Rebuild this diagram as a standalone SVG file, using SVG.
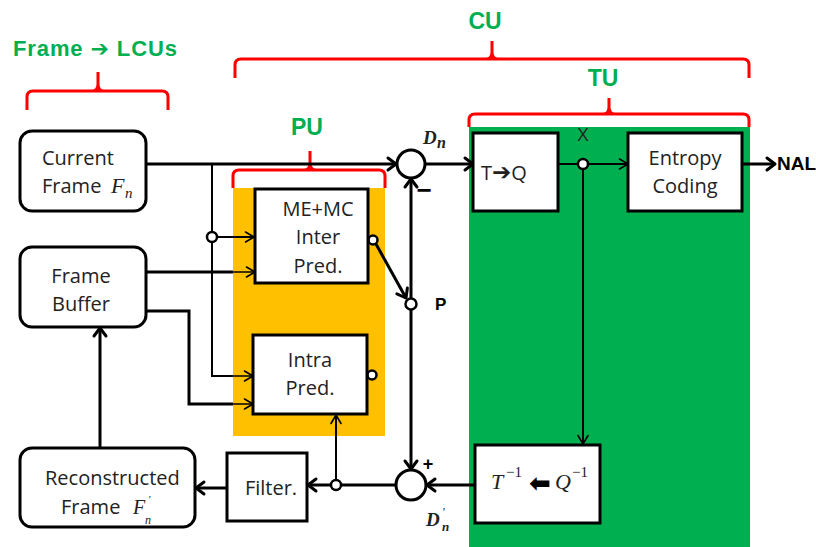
<svg xmlns="http://www.w3.org/2000/svg" width="816" height="547" viewBox="0 0 816 547">
<style>
.box{fill:#fff;stroke:#000;stroke-width:3}
.t{font-family:"Open Sans","Liberation Sans",sans-serif;font-size:20px;fill:#222}
.lbl{font-family:"Liberation Sans",Arial,sans-serif;font-weight:bold;fill:#00B050}
.m{font-family:"Liberation Serif","DejaVu Serif",serif;font-style:italic;fill:#222}
.brace{fill:none;stroke:#FF0000;stroke-width:3;stroke-linejoin:round}
.thick{fill:none;stroke:#000;stroke-width:3}
.mid{fill:none;stroke:#000;stroke-width:2}
.thin{fill:none;stroke:#000;stroke-width:1.5}
.dot{fill:#fff;stroke:#000;stroke-width:2.5}
.sum{fill:#fff;stroke:#000;stroke-width:3}
.arw{font-family:"DejaVu Sans",sans-serif;font-weight:bold}
</style>
<defs>
<marker id="ak" viewBox="0 0 10 14" markerWidth="10" markerHeight="14" refX="9" refY="7" orient="auto" markerUnits="userSpaceOnUse" overflow="visible">
<path d="M1,1 L9,7 L1,13" fill="none" stroke="#000" stroke-width="3" stroke-linejoin="round" stroke-linecap="round"/>
</marker>
<marker id="an" viewBox="0 0 10 12" markerWidth="10" markerHeight="12" refX="9.5" refY="6" orient="auto" markerUnits="userSpaceOnUse" overflow="visible">
<path d="M1,1 L9.5,6 L1,11" fill="none" stroke="#000" stroke-width="1.6" stroke-linejoin="round" stroke-linecap="round"/>
</marker>
</defs>
<rect width="816" height="547" fill="#fff"/>

<g id="regions">
<rect x="233" y="188" width="152" height="248" fill="#FFC000"/>
<rect x="469" y="127" width="281" height="420" fill="#00B050"/>
</g>

<g id="braces">
<text class="lbl" x="13" y="56" font-size="22" textLength="164" lengthAdjust="spacing">Frame <tspan class="arw">➔</tspan> LCUs</text>
<path class="brace" d="M27,110 V97 Q27,91 33,91 H162 Q168,91 168,97 V110 M98,72 V84 Q98,91 92,91 M98,84 Q98,91 104,91"/>
<text class="lbl" x="485" y="29" font-size="23" text-anchor="middle">CU</text>
<path class="brace" d="M235,78 V65 Q235,59 241,59 H743 Q749,59 749,65 V78 M492,41 V52 Q492,59 486,59 M492,52 Q492,59 498,59"/>
<text class="lbl" x="603" y="86" font-size="23" text-anchor="middle">TU</text>
<path class="brace" d="M469,127 V120 Q469,114 475,114 H743 Q749,114 749,120 V127 M609,98 V107 Q609,114 603,114 M609,107 Q609,114 615,114"/>
<text class="lbl" x="307" y="135" font-size="23" text-anchor="middle">PU</text>
<path class="brace" d="M233,188 V176 Q233,170 239,170 H379 Q385,170 385,176 V188 M310,151 V163 Q310,170 304,170 M310,163 Q310,170 316,170"/>
</g>

<g id="connectors">
<path class="thick" d="M146,164 H396" marker-end="url(#ak)"/>
<path class="mid" d="M212,164 V376 H233"/>
<path class="thin" d="M233,376 H253" marker-end="url(#an)"/>
<path class="mid" d="M212,237 H254" marker-end="url(#an)"/>
<path class="thick" d="M146,272 H233"/>
<path class="thin" d="M233,272 H255" marker-end="url(#an)"/>
<path class="thick" d="M146,311 H189 V404 H233"/>
<path class="thin" d="M233,404 H253" marker-end="url(#an)"/>
<path class="thick" d="M376,244 L406,298" marker-end="url(#ak)"/>
<path class="thick" d="M411,298 V179" marker-end="url(#ak)"/>
<path class="thick" d="M411,310 V469" marker-end="url(#ak)"/>
<path class="thick" d="M425,164 H473" marker-end="url(#ak)"/>
<path class="mid" d="M558,164 H628" marker-end="url(#an)"/>
<path class="mid" d="M583,169 V444" marker-end="url(#an)"/>
<path class="thick" d="M742,164 H775" marker-end="url(#ak)"/>
<path class="thick" d="M475,485 H427" marker-end="url(#ak)"/>
<path class="thick" d="M396,485 H308" marker-end="url(#ak)"/>
<path class="mid" d="M336,480 V415" marker-end="url(#an)"/>
<path class="thick" d="M227,488 H196" marker-end="url(#ak)"/>
<path class="thick" d="M100,448 V328" marker-end="url(#ak)"/>
<circle class="dot" cx="212" cy="237" r="5"/>
<circle class="dot" cx="583" cy="164" r="5"/>
<circle class="dot" cx="336" cy="485" r="5"/>
<circle class="dot" cx="411" cy="304" r="5.5"/>
<circle class="dot" cx="373" cy="240" r="4.5"/>
<circle class="dot" cx="372" cy="375" r="4.5"/>
<text x="583" y="141" font-family="Open Sans,Liberation Sans,sans-serif" font-size="19" text-anchor="middle" fill="#222">X</text>
<text x="435" y="310" font-family="Liberation Sans,Arial,sans-serif" font-size="17" font-weight="bold" fill="#000">P</text>
<text x="777" y="170" font-family="Liberation Sans,Arial,sans-serif" font-size="19" font-weight="bold" fill="#000">NAL</text>
</g>

<g id="sum-top">
<circle class="sum" cx="411" cy="164" r="14"/>
<text class="m" x="423" y="144" font-size="19" font-weight="bold">D</text>
<text class="m" x="437" y="148" font-size="16" font-weight="bold">n</text>
<text x="424" y="199" font-family="Liberation Sans,Arial,sans-serif" font-size="26" font-weight="bold" text-anchor="middle" fill="#000">−</text>
</g>

<g id="sum-bottom">
<circle class="sum" cx="411" cy="485" r="15"/>
<text x="428" y="470" font-family="Liberation Sans,Arial,sans-serif" font-size="18" font-weight="bold" text-anchor="middle" fill="#000">+</text>
<text class="m" x="426" y="526" font-size="19" font-weight="bold">D</text>
<text class="m" x="442" y="516" font-size="12">'</text>
<text class="m" x="442" y="531" font-size="13" font-weight="bold">n</text>
</g>

<g id="current-frame">
<rect class="box" x="20" y="131" width="126" height="80" rx="12"/>
<text class="t" x="42" y="165">Current</text>
<text class="t" x="42" y="193">Frame</text>
<text class="m" x="111" y="193" font-size="22">F</text>
<text class="m" x="125" y="198" font-size="15">n</text>
</g>

<g id="frame-buffer">
<rect class="box" x="20" y="247" width="126" height="80" rx="12"/>
<text class="t" x="81" y="283" text-anchor="middle">Frame</text>
<text class="t" x="81" y="311" text-anchor="middle">Buffer</text>
</g>

<g id="reconstructed-frame">
<rect class="box" x="20" y="448" width="175" height="79" rx="12"/>
<text class="t" x="45" y="485">Reconstructed</text>
<text class="t" x="61" y="514">Frame</text>
<text class="m" x="133" y="514" font-size="20">F</text>
<text class="m" x="148" y="503" font-size="11">'</text>
<text class="m" x="145" y="524" font-size="12">n</text>
</g>

<g id="filter">
<rect class="box" x="227" y="453" width="80" height="68"/>
<text class="t" x="271" y="495" text-anchor="middle">Filter.</text>
</g>

<g id="inter-pred">
<rect class="box" x="255" y="189" width="113" height="94"/>
<text class="t" x="318" y="216" text-anchor="middle">ME+MC</text>
<text class="t" x="318" y="244" text-anchor="middle">Inter</text>
<text class="t" x="318" y="273" text-anchor="middle">Pred.</text>
</g>

<g id="intra-pred">
<rect class="box" x="253" y="335" width="114" height="79"/>
<text class="t" x="310" y="367" text-anchor="middle">Intra</text>
<text class="t" x="310" y="395" text-anchor="middle">Pred.</text>
</g>

<g id="tq">
<rect class="box" x="473" y="133" width="85" height="78"/>
<text class="t" x="481" y="180">T<tspan class="arw" font-size="23">➔</tspan>Q</text>
</g>

<g id="entropy">
<rect class="box" x="628" y="133" width="114" height="78"/>
<text class="t" x="685" y="165" text-anchor="middle">Entropy</text>
<text class="t" x="685" y="193" text-anchor="middle">Coding</text>
</g>

<g id="inverse-tq">
<rect class="box" x="475" y="445" width="125" height="78"/>
<text class="m" x="491" y="489" font-size="22">T</text>
<text x="506" y="477" font-family="Liberation Serif,DejaVu Serif,serif" font-size="15" fill="#222">−1</text>
<text class="arw" x="529" y="492" font-size="26" fill="#000">⬅</text>
<text class="m" x="555" y="489" font-size="22">Q</text>
<text x="572" y="477" font-family="Liberation Serif,DejaVu Serif,serif" font-size="15" fill="#222">−1</text>
</g>
</svg>
